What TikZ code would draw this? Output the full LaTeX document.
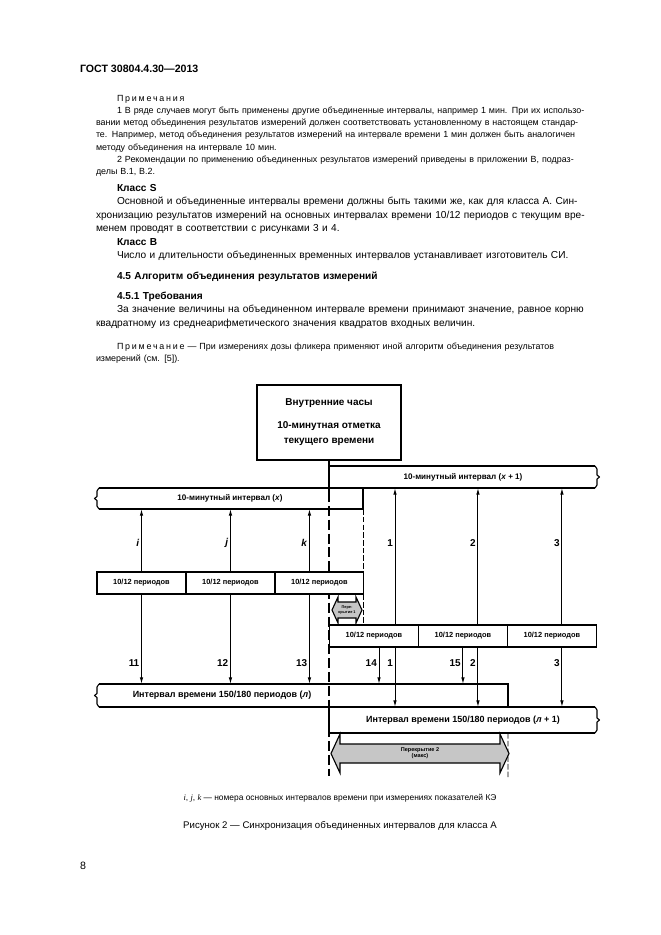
\documentclass[tikz,border=0pt]{standalone}
\usepackage{fontspec}
\setmainfont{Liberation Sans}
\newfontfamily\timesfont{Liberation Serif}
\usetikzlibrary{arrows.meta,positioning,calc}

% justified line, paragraph indent, letter-spaced word
\newcommand\jl[1]{\makebox[\linewidth][s]{#1}}
\newcommand\ind{\hspace*{19pt}}
\newcommand\spaced[1]{{\addfontfeature{LetterSpace=20}#1}}
% break ends of the interval bars
\newcommand\brkl[1]{\draw[brk] ($(#1.north west)+(2,0)$) -- ($(#1.north west)+(0,3)$) -- ($(#1.west)+(0,-2)$) -- ($(#1.west)+(-2.5,0)$) -- ($(#1.west)+(0,2)$) -- ($(#1.south west)+(0,-3)$) -- ($(#1.south west)+(2,0)$);}
\newcommand\brkr[1]{\draw[brk] ($(#1.north east)+(-2,0)$) -- ($(#1.north east)+(0,3)$) -- ($(#1.east)+(0,-2)$) -- ($(#1.east)+(2.5,0)$) -- ($(#1.east)+(0,2)$) -- ($(#1.south east)+(0,-3)$) -- ($(#1.south east)+(-2,0)$);}

\begin{document}
\begin{tikzpicture}[x=0.3176mm, y=-0.3176mm,
  every node/.style={inner sep=0pt, outer sep=0pt},
  para/.style={anchor=base west, text width=444.6pt, align=left},
  note/.style={para, font=\fontsize{8.05}{11.1}\selectfont},
  body/.style={para, font=\fontsize{9.15}{12.3}\selectfont},
  bhead/.style={para, font=\fontsize{9.15}{12.3}\selectfont\bfseries},
  head/.style={anchor=base west, font=\fontsize{9.6}{12}\selectfont\bfseries},
  lbl/.style={font=\fontsize{7.3}{9}\selectfont\bfseries},
  lbln/.style={font=\fontsize{8.1}{9}\selectfont\bfseries},
  num/.style={font=\fontsize{9}{10}\selectfont\bfseries, inner sep=2pt},
  clockbox/.style={draw, line width=2.6pt, minimum width=130.1pt, minimum height=67.8pt, align=center, font=\fontsize{9}{13.6}\selectfont\bfseries},
  perbox/.style={draw, fill=white, line width=1pt, font=\fontsize{6.7}{8}\selectfont\bfseries, minimum width=80.4pt, minimum height=19.9pt},
  ivl/.style={line width=1.8pt},
  brk/.style={line width=1pt, line join=round},
  arr/.style={line width=0.9pt, -{Latex[length=6pt,width=3.2pt]}},
  tline/.style={line width=2.6pt},
  tdash/.style={line width=2.6pt, dash pattern=on 9pt off 3.5pt, dash phase=9pt},
  dline/.style={line width=0.8pt, dash pattern=on 5pt off 2pt},
  ovl/.style={draw, line width=1pt, fill=gray!45, line join=miter}
]
\fill[white] (0,0) rectangle (661,935);
\useasboundingbox (0,0) rectangle (661,935);

% page text
\node[head] (gost) at (80,72) {ГОСТ 30804.4.30—2013};
\node[note] (notes) at (96,101) {\ind\spaced{Примечания}\\
  \jl{\ind 1 В ряде случаев могут быть применены другие объединенные интервалы, например 1 мин. При их использо-}\\
  \jl{вании метод объединения результатов измерений должен соответствовать установленному в настоящем стандар-}\\
  \jl{те. Например, метод объединения результатов измерений на интервале времени 1 мин должен быть аналогичен}\\
  методу объединения на интервале 10 мин.\\
  \jl{\ind 2 Рекомендации по применению объединенных результатов измерений приведены в приложении В, подраз-}\\
  делы В.1, В.2.};
\node[bhead] (clss) at (96,191) {\ind Класс S};
\node[body] (clstxt) at (96,204.5) {\jl{\ind Основной и объединенные интервалы времени должны быть такими же, как для класса А. Син-}\\
  \jl{хронизацию результатов измерений на основных интервалах времени 10/12 периодов с текущим вре-}\\
  менем проводят в соответствии с рисунками 3 и 4.};
\node[bhead] (clsb) at (96,245) {\ind Класс В};
\node[body] (clsbtxt) at (96,258.5) {\ind Число и длительности объединенных временных интервалов устанавливает изготовитель СИ.};
\node[bhead] (sec) at (96,279) {\ind 4.5 Алгоритм объединения результатов измерений};
\node[bhead] (subsec) at (96,299) {\ind 4.5.1 Требования};
\node[body] (req) at (96,312.5) {\jl{\ind За значение величины на объединенном интервале времени принимают значение, равное корню}\\
  квадратному из среднеарифметического значения квадратов входных величин.};
\node[note] (flk) at (96,349) {\jl{\ind\spaced{Примечание} — При измерениях дозы фликера применяют иной алгоритм объединения результатов}\\
  измерений (см. [5]).};

% diagram
\node[clockbox] (clock) at (329,422.5) {Внутренние часы\\[7pt]10-минутная отметка\\текущего времени};
\coordinate (tsol) at (329,502);
\coordinate (tend) at (329,776);
\draw[tline] (clock.south) -- (tsol);
\draw[tdash] (tsol) -- (tend);
\node[lbl, minimum width=242.2pt, minimum height=19.9pt] (ivx1) at (463,477) {10-минутный интервал (\textit{x} + 1)};
\node[lbl, minimum width=240.4pt, minimum height=19pt] (ivx) at (230,498.5) {10-минутный интервал (\textit{x})};
\node[perbox] (per1) at (141.5,583) {10/12 периодов};
\node[perbox, right=0pt of per1] (per2) {10/12 периодов};
\node[perbox, right=0pt of per2] (per3) {10/12 периодов};
\node[perbox] (per4) at (374,636) {10/12 периодов};
\node[perbox, right=0pt of per4] (per5) {10/12 периодов};
\node[perbox, right=0pt of per5] (per6) {10/12 периодов};
\node[minimum width=371.4pt, minimum height=20.8pt] (ivn) at (302.5,695.5) {};
\node[lbln] (ivnt) at (222,695.5) {Интервал времени 150/180 периодов (\textit{л})};
\node[lbln, minimum width=242.2pt, minimum height=23.5pt] (ivn1) at (463,720) {Интервал времени 150/180 периодов (\textit{л} + 1)};
\coordinate (ov2end) at (508,777);

% interval bars
\draw[ivl] (ivx1.south west) -- (ivx1.north west) -- ($(ivx1.north east)+(-2,0)$);
\draw[ivl] (ivx1.south west) -- ($(ivx1.south east)+(-2,0)$);
\brkr{ivx1}
\draw[ivl] ($(ivx.north west)+(2,0)$) -- (ivx.north east) -- (ivx.south east) -- ($(ivx.south west)+(2,0)$);
\brkl{ivx}
\draw[ivl] ($(ivn.north west)+(2,0)$) -- (ivn.north east) -- (ivn.south east) -- ($(ivn.south west)+(2,0)$);
\brkl{ivn}
\draw[ivl] ($(ivn1.north east)+(-2,0)$) -- (ivn1.north west) -- (ivn1.south west) -- ($(ivn1.south east)+(-2,0)$);
\brkr{ivn1}

% time marks
\draw[dline] (ivx.south east) -- (ivx.south east |- per4.north);
\draw[dline] (ivn.south east |- ivn1.south) -- (ov2end);

% overlaps
\draw[ovl] (332,610) -- (338,597) -- (338,602) -- (356,602) -- (356,597) -- (362,610) -- (356,623) -- (356,618) -- (338,618) -- (338,623) -- cycle;
\node[align=center, font=\fontsize{3.5}{4}\selectfont\bfseries] (ov1) at (347,610) {Пере-\\крытие 1};
\draw[ovl] (331,753.5) -- (340,734) -- (340,744) -- (500,744) -- (500,734) -- (509,753.5) -- (500,773) -- (500,763) -- (340,763) -- (340,773) -- cycle;
\node[align=center, font=\fontsize{5}{5.5}\selectfont\bfseries] (ov2) at (420,753.5) {Перекрытие 2\\(макс)};

% left arrows
\coordinate (kx) at ($(per3.north)+(-10,0)$);
\draw[arr] (per1.north) -- node[num, left, pos=.46] {\textit{i}} (per1.north |- ivx.south);
\draw[arr] (per2.north) -- node[num, left, pos=.46] {\textit{j}} (per2.north |- ivx.south);
\draw[arr] (kx) -- node[num, left, pos=.46] {\textit{k}} (kx |- ivx.south);
\draw[arr] (per1.south) -- node[num, left, pos=.77] {11} (per1.south |- ivn.north);
\draw[arr] (per2.south) -- node[num, left, pos=.77] {12} (per2.south |- ivn.north);
\draw[arr] (kx |- per3.south) -- node[num, left, pos=.77] {13} (kx |- ivn.north);

% right arrows
\coordinate (c1) at ($(per4.north)+(21,0)$);
\coordinate (c2) at ($(per5.north)+(15,0)$);
\coordinate (c3) at ($(per6.north)+(10,0)$);
\coordinate (c14) at ($(per4.south)+(5,0)$);
\draw[arr] (c1) -- node[num, left, pos=.6] {1} (c1 |- ivx1.south);
\draw[arr] (c2) -- node[num, left, pos=.6] {2} (c2 |- ivx1.south);
\draw[arr] (c3) -- node[num, left, pos=.6] {3} (c3 |- ivx1.south);
\draw[arr] (c1 |- per4.south) -- node[num, left, pos=.27] {1} (c1 |- ivn1.north);
\draw[arr] (c2 |- per5.south) -- node[num, left, pos=.27] {2} (c2 |- ivn1.north);
\draw[arr] (c3 |- per6.south) -- node[num, left, pos=.27] {3} (c3 |- ivn1.north);
\draw[arr] (c14) -- node[num, left, pos=.43] {14} (c14 |- ivn.north);
\draw[arr] (per5.south) -- node[num, left, pos=.43] {15} (per5.south |- ivn.north);

% captions
\node[anchor=base, font=\fontsize{7.6}{9}\selectfont] (key) at (340,800) {{\timesfont\itshape i}, {\timesfont\itshape j}, {\timesfont\itshape k} — номера основных интервалов времени при измерениях показателей КЭ};
\node[anchor=base, font=\fontsize{8.7}{12}\selectfont] (cap) at (340,828) {Рисунок 2 — Синхронизация объединенных интервалов для класса А};
\node[anchor=base west, font=\fontsize{9.6}{12}\selectfont] (pgno) at (80,869) {8};
\end{tikzpicture}
\end{document}
